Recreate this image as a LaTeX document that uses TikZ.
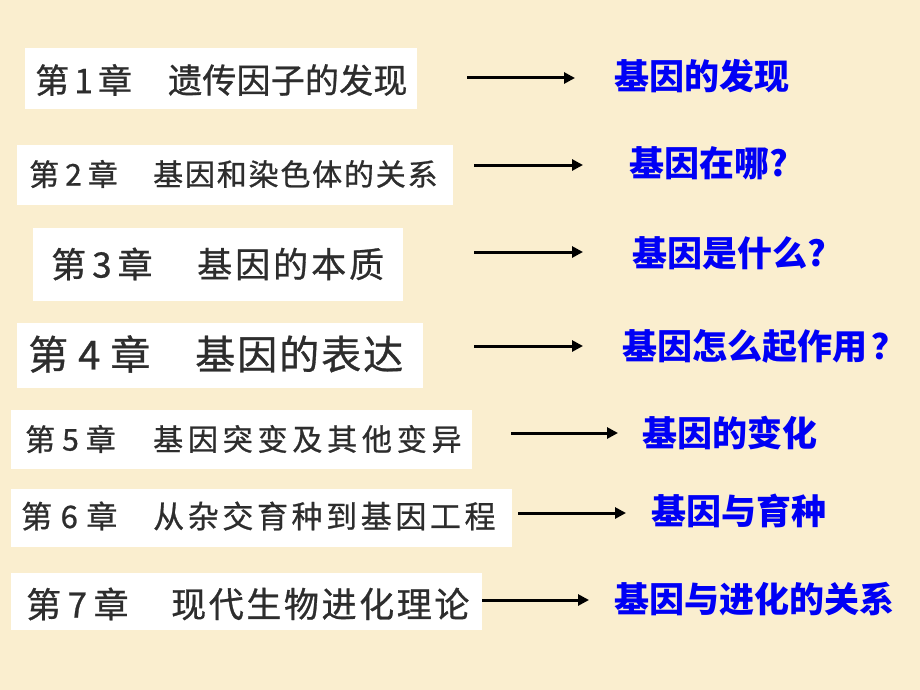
\documentclass[tikz,border=0pt]{standalone}
\usepackage{fontspec}
\newfontfamily\cjk{Noto Sans CJK SC}
\newfontfamily\cjkscan[FakeBold=0.8]{Noto Sans CJK SC}
\usetikzlibrary{arrows.meta}
\definecolor{parch}{RGB}{250,238,207}
\definecolor{scan}{RGB}{45,45,45}
\definecolor{qblue}{RGB}{0,0,245}
\newlength\spgap
\newcommand\spc[2]{\setlength\spgap{#1}\spcloop#2\relax}
\def\spcloop#1{\ifx\relax#1\else#1\hspace{\spgap}\expandafter\spcloop\fi}
\newcommand\fsz[1]{\fontsize{#1}{#1}\selectfont}
\tikzset{
  box/.style={fill=white, inner sep=0pt, outer sep=0pt, anchor=north west},
  scantext/.style={text=scan, inner sep=0pt, anchor=west, font=\cjkscan},
  ans/.style={text=qblue, inner sep=0pt, anchor=west, font=\cjk\bfseries\fsz{35}},
  arr/.style={line width=3pt, -{Triangle[length=11pt,width=11pt]}}
}
\begin{document}
\begin{tikzpicture}[x=1pt,y=-1pt]
\fill[parch] (0,0) rectangle (920,690);
\useasboundingbox (0,0) rectangle (920,690);

% white boxes
\node[box, minimum width=392pt, minimum height=61pt] (box1) at (25,48) {};
\node[box, minimum width=436pt, minimum height=60pt] (box2) at (17,145) {};
\node[box, minimum width=370pt, minimum height=73pt] (box3) at (33,228) {};
\node[box, minimum width=406pt, minimum height=65pt] (box4) at (17,323) {};
\node[box, minimum width=461pt, minimum height=59pt] (box5) at (11,410) {};
\node[box, minimum width=501pt, minimum height=58pt] (box6) at (11,489) {};
\node[box, minimum width=471pt, minimum height=57pt] (box7) at (11,573) {};

% chapter labels
\node[scantext] (c1) at (35,80)  {\fsz{34}\spc{5pt}{第1章}};
\node[scantext] (c2) at (29,174) {\fsz{30}\spc{6pt}{第2章}};
\node[scantext] (c3) at (51,264) {\fsz{35}\spc{6pt}{第3章}};
\node[scantext] (c4) at (28,354) {\fsz{40}\spc{10pt}{第4章}};
\node[scantext] (c5) at (25,439) {\fsz{30}\spc{7pt}{第5章}};
\node[scantext] (c6) at (21,516) {\fsz{31}\spc{8.5pt}{第6章}};
\node[scantext] (c7) at (26,604) {\fsz{35}\spc{6.5pt}{第7章}};

% chapter titles
\node[scantext] (t1) at (168,80)  {\fsz{34}\spc{0.2pt}{遗传因子的发现}};
\node[scantext] (t2) at (153,174) {\fsz{30}\spc{1.8pt}{基因和染色体的关系}};
\node[scantext] (t3) at (197,264) {\fsz{35}\spc{3pt}{基因的本质}};
\node[scantext] (t4) at (195,354) {\fsz{40}\spc{2pt}{基因的表达}};
\node[scantext] (t5) at (153,439) {\fsz{30}\spc{4.8pt}{基因突变及其他变异}};
\node[scantext] (t6) at (153,516) {\fsz{31}\spc{3.6pt}{从杂交育种到基因工程}};
\node[scantext] (t7) at (171,604) {\fsz{35}\spc{2.6pt}{现代生物进化理论}};

% answers
\node[ans] (a1) at (614,76)  {基因的发现};
\node[ans] (a2) at (629,163) {基因在哪?};
\node[ans] (a3) at (632,253) {基因是什么?};
\node[ans] (a4) at (622,346) {基因怎么起作用\hspace{4pt}？};
\node[ans] (a5) at (642,433) {基因的变化};
\node[ans] (a6) at (651,511) {基因与育种};
\node[ans] (a7) at (614,599) {基因与进化的关系};

% arrow ends
\coordinate (s1) at (467,78);  \coordinate (e1) at (575,78);
\coordinate (s2) at (474,165); \coordinate (e2) at (583,165);
\coordinate (s3) at (474,252); \coordinate (e3) at (583,252);
\coordinate (s4) at (474,346); \coordinate (e4) at (583,346);
\coordinate (s5) at (511,433); \coordinate (e5) at (618,433);
\coordinate (s6) at (518,513); \coordinate (e6) at (626,513);
\coordinate (s7) at (482,600); \coordinate (e7) at (589,600);

\draw[arr] (s1) -- (e1);
\draw[arr] (s2) -- (e2);
\draw[arr] (s3) -- (e3);
\draw[arr] (s4) -- (e4);
\draw[arr] (s5) -- (e5);
\draw[arr] (s6) -- (e6);
\draw[arr] (s7) -- (e7);
\end{tikzpicture}
\end{document}
